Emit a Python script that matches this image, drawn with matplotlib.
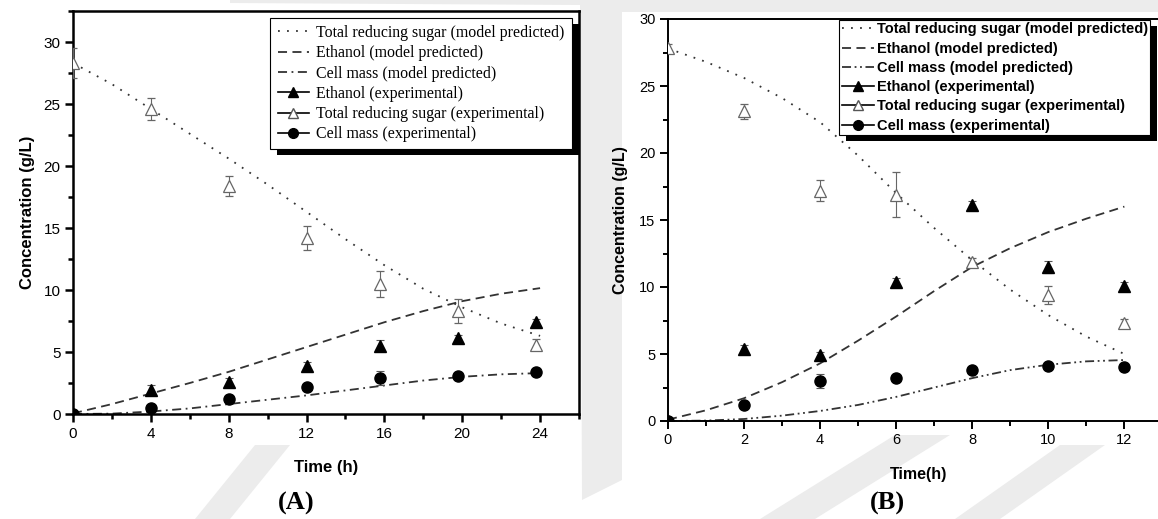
import matplotlib
matplotlib.use("Agg")
from matplotlib import pyplot as plt
import matplotlib.patches as mpatches
from matplotlib.lines import Line2D
from matplotlib.ticker import MultipleLocator

# Panel A: fermentation over 24 h
tA_exp = [0, 4, 8, 12, 15.8, 19.8, 23.8]
sugarA_exp = [28.3, 24.6, 18.4, 14.2, 10.5, 8.3, 5.6]
sugarA_err = [1.2, 0.85, 0.8, 1.0, 1.05, 1.0, 0.45]
ethA_exp = [0.0, 1.9, 2.6, 3.9, 5.5, 6.1, 7.4]
ethA_err = [0.1, 0.4, 0.3, 0.3, 0.45, 0.3, 0.3]
cellA_exp = [0.0, 0.5, 1.2, 2.2, 2.9, 3.05, 3.4]
cellA_err = [0.05, 0.15, 0.3, 0.2, 0.6, 0.2, 0.2]

tA_model = [0, 2, 4, 6, 8, 10, 12, 14, 16, 18, 20, 22, 24]
sugarA_model = [28.3, 26.6, 24.6, 22.6, 20.6, 18.5, 16.3, 14.1, 12.0, 10.1, 8.6, 7.3, 6.3]
ethA_model = [0.05, 0.8, 1.65, 2.5, 3.4, 4.4, 5.4, 6.4, 7.4, 8.3, 9.1, 9.7, 10.15]
cellA_model = [0.0, 0.03, 0.2, 0.45, 0.8, 1.15, 1.5, 1.9, 2.3, 2.7, 3.0, 3.2, 3.3]

# Panel B: fermentation over 12 h
tB_exp = [0, 2, 4, 6, 8, 10, 12]
sugarB_exp = [27.8, 23.1, 17.2, 16.9, 11.9, 9.4, 7.3]
sugarB_err = [0.3, 0.55, 0.8, 1.7, 0.3, 0.7, 0.3]
ethB_exp = [0.0, 5.4, 4.9, 10.4, 16.1, 11.5, 10.1]
ethB_err = [0.1, 0.25, 0.25, 0.3, 0.3, 0.45, 0.25]
cellB_exp = [0.0, 1.2, 3.0, 3.2, 3.8, 4.1, 4.0]
cellB_err = [0.05, 0.1, 0.5, 0.1, 0.1, 0.1, 0.1]

tB_model = [0, 1, 2, 3, 4, 5, 6, 7, 8, 9, 10, 11, 12]
sugarB_model = [27.8, 26.8, 25.6, 24.1, 22.3, 19.8, 17.0, 14.4, 12.0, 9.8, 7.9, 6.3, 5.0]
ethB_model = [0.1, 0.8, 1.7, 2.9, 4.3, 6.0, 7.8, 9.7, 11.5, 12.9, 14.1, 15.1, 16.0]
cellB_model = [0.0, 0.03, 0.15, 0.4, 0.75, 1.2, 1.8, 2.5, 3.2, 3.8, 4.2, 4.45, 4.55]

labels = ["Total reducing sugar (model predicted)", "Ethanol (model predicted)",
          "Cell mass (model predicted)", "Ethanol (experimental)",
          "Total reducing sugar (experimental)", "Cell mass (experimental)"]

SANS = "Liberation Sans"
SERIF = "Liberation Serif"
LINE = "#333333"
DOT = (0, (1, 4))
DASH = (0, (5, 3))
DASHDOT = (0, (5, 2.5, 1, 2.5))
DASHDOTDOT = (0, (5, 2, 1, 2, 1, 2))

W, H = 1158, 519
fig = plt.figure(figsize=(W / 100, H / 100), dpi=100)
fig.patch.set_facecolor("white")

# faint grey background shapes
bg = "#ececec"
for poly in [
    [(230, 0), (580, 0), (580, 5), (230, 3)],
    [(580, 0), (1158, 0), (1158, 12), (622, 12), (622, 480), (582, 500)],
    [(195, 519), (255, 445), (290, 445), (230, 519)],
    [(760, 519), (895, 435), (950, 435), (815, 519)],
    [(955, 519), (1060, 445), (1105, 445), (1000, 519)],
]:
    fig.patches.append(mpatches.Polygon([(x / W, 1 - y / H) for x, y in poly],
                                        closed=True, transform=fig.transFigure,
                                        facecolor=bg, edgecolor="none", zorder=-10))


def style_axes(ax, spine_w, xmaj, xmin, tick_size):
    for s in ax.spines.values():
        s.set_linewidth(spine_w)
    ax.xaxis.set_major_locator(MultipleLocator(xmaj))
    ax.xaxis.set_minor_locator(MultipleLocator(xmin))
    ax.yaxis.set_major_locator(MultipleLocator(5))
    ax.yaxis.set_minor_locator(MultipleLocator(2.5))
    ax.tick_params(which="major", direction="out", length=6, width=spine_w,
                   labelsize=tick_size, pad=3)
    ax.tick_params(which="minor", direction="out", length=3.5, width=spine_w)
    ax.tick_params(axis="x", which="both", top=False)
    ax.tick_params(axis="y", which="both", right=False)
    for lab in ax.get_xticklabels() + ax.get_yticklabels():
        lab.set_fontfamily(SANS)


def draw_panel(ax, t_model, sugar_m, eth_m, cell_m, cell_ls,
               t_exp, sugar, sugar_e, eth, eth_e, cell, cell_e):
    ax.plot(t_model, sugar_m, color=LINE, lw=1.3, ls=DOT, zorder=2)
    ax.plot(t_model, eth_m, color=LINE, lw=1.3, ls=DASH, zorder=2)
    ax.plot(t_model, cell_m, color=LINE, lw=1.3, ls=cell_ls, zorder=2)
    ax.errorbar(t_exp, sugar, yerr=sugar_e, fmt="^", ms=8.5, mfc="white", mec="#666666",
                mew=0.9, ecolor="#666666", elinewidth=0.8, capsize=3, capthick=0.8, zorder=3)
    ax.errorbar(t_exp, eth, yerr=eth_e, fmt="^", ms=8, mfc="black", mec="black",
                ecolor="#555555", elinewidth=0.8, capsize=3, capthick=0.8, zorder=3)
    ax.errorbar(t_exp, cell, yerr=cell_e, fmt="o", ms=8, mfc="black", mec="black",
                ecolor="#555555", elinewidth=0.8, capsize=3, capthick=0.8, zorder=3)


def legend_handles(cell_ls):
    return [
        Line2D([], [], color=LINE, lw=1.3, ls=DOT),
        Line2D([], [], color=LINE, lw=1.3, ls=DASH),
        Line2D([], [], color=LINE, lw=1.3, ls=cell_ls),
        Line2D([], [], color="black", lw=1.2, marker="^", ms=7, mfc="black"),
        Line2D([], [], color="black", lw=1.2, marker="^", ms=7, mfc="white", mec="#555555"),
        Line2D([], [], color="black", lw=1.2, marker="o", ms=7, mfc="black"),
    ]


# ---- panel A ----
axA = fig.add_axes([73 / W, 1 - 414 / H, (579 - 73) / W, (414 - 11) / H])
draw_panel(axA, tA_model, sugarA_model, ethA_model, cellA_model, DASHDOT,
           tA_exp, sugarA_exp, sugarA_err, ethA_exp, ethA_err, cellA_exp, cellA_err)
axA.set_xlim(0, 26)
axA.set_ylim(0, 32.5)
axA.set_xticks([0, 4, 8, 12, 16, 20, 24])
style_axes(axA, 1.8, 4, 2, 11)
axA.set_ylabel("Concentration (g/L)", fontfamily=SANS, fontweight="bold", fontsize=12, labelpad=6)
axA.set_xlabel("Time (h)", fontfamily=SANS, fontweight="bold", fontsize=12, labelpad=14)
legA = axA.legend(legend_handles(DASHDOT), labels, loc="upper right",
                  bbox_to_anchor=(0.986, 0.983), borderaxespad=0, fancybox=False,
                  edgecolor="black", framealpha=1, handlelength=2.0, handletextpad=0.45,
                  labelspacing=0.27, borderpad=0.45,
                  prop={"family": SERIF, "size": 11.4})
legA.get_frame().set_linewidth(0.8)

# ---- panel B ----
axB = fig.add_axes([668 / W, 1 - 421 / H, (1170 - 668) / W, (421 - 19) / H])
draw_panel(axB, tB_model, sugarB_model, ethB_model, cellB_model, DASHDOTDOT,
           tB_exp, sugarB_exp, sugarB_err, ethB_exp, ethB_err, cellB_exp, cellB_err)
axB.set_xlim(0, 13.2)
axB.set_ylim(0, 30)
style_axes(axB, 1.4, 2, 1, 10.5)
axB.set_xticks([0, 2, 4, 6, 8, 10, 12])
axB.set_ylabel("Concentration (g/L)", fontfamily=SANS, fontweight="bold", fontsize=11.5, labelpad=8)
axB.set_xlabel("Time(h)", fontfamily=SANS, fontweight="bold", fontsize=11.5, labelpad=14)
legB = axB.legend(legend_handles(DASHDOTDOT), labels, loc="upper right",
                  bbox_to_anchor=(0.960, 0.997), borderaxespad=0, fancybox=False,
                  edgecolor="black", framealpha=1, handlelength=2.2, handletextpad=0.2,
                  labelspacing=0.36, borderpad=0.15,
                  prop={"family": SANS, "size": 10.5, "weight": "bold"})
legB.get_frame().set_linewidth(0.8)

# panel captions
fig.text(296 / W, 1 - 503 / H, "(A)", ha="center", va="center",
         fontfamily=SERIF, fontweight="bold", fontsize=19)
fig.text(887 / W, 1 - 503 / H, "(B)", ha="center", va="center",
         fontfamily=SERIF, fontweight="bold", fontsize=19)

# solid black drop shadow behind each legend
fig.canvas.draw()
for ax, leg in [(axA, legA), (axB, legB)]:
    bb = leg.get_window_extent()
    ax.add_artist(mpatches.Rectangle((bb.x0 + 7, bb.y0 - 6), bb.width, bb.height,
                                     transform=None, facecolor="black", edgecolor="none",
                                     zorder=4.5, clip_on=False))

fig.savefig("out.png", dpi=100)
